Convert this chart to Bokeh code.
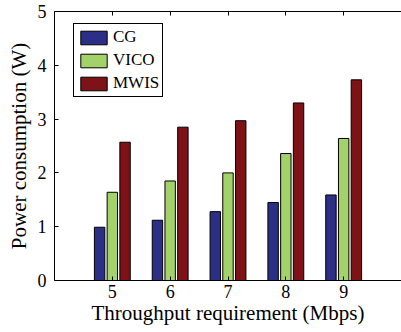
from bokeh.plotting import figure
from bokeh.models import ColumnDataSource, LinearAxis, FixedTicker, Legend, LegendItem, Range1d
from bokeh.transform import dodge
from bokeh.embed import file_html
from bokeh.resources import INLINE

throughput = [5, 6, 7, 8, 9]
cg = [0.99, 1.12, 1.28, 1.45, 1.59]
vico = [1.64, 1.85, 2.00, 2.36, 2.64]
mwis = [2.57, 2.85, 2.97, 3.30, 3.73]
series_names = ["CG", "VICO", "MWIS"]
colors = ["#2b2f86", "#a3d16a", "#7d1316"]
y_ticks = [0, 1, 2, 3, 4, 5]

FONT = "Liberation Serif"

src = ColumnDataSource(dict(x=throughput, cg=cg, vico=vico, mwis=mwis))

p = figure(width=401, height=332, output_backend="svg", toolbar_location=None,
           x_range=Range1d(4, 10), y_range=Range1d(0, 5),
           min_border_left=54, min_border_right=0, min_border_top=11, min_border_bottom=52)
p.xgrid.visible = False
p.ygrid.visible = False
p.outline_line_color = None
p.background_fill_color = "white"
p.border_fill_color = "white"

offsets = [-0.22, 0.0, 0.22]
renderers = []
for col, off, c in zip(["cg", "vico", "mwis"], offsets, colors):
    r = p.vbar(x=dodge("x", off, range=p.x_range), top=col, width=0.18, bottom=0,
               source=src, fill_color=c, line_color="black", line_width=1)
    renderers.append(r)

for ax in p.xaxis:
    ax.ticker = FixedTicker(ticks=throughput)
for ax in p.yaxis:
    ax.ticker = FixedTicker(ticks=y_ticks)

def style(ax, labels=True, ticks=None):
    ax.major_tick_in = 4
    ax.major_tick_out = 0
    ax.minor_tick_in = 0
    ax.minor_tick_out = 0
    ax.axis_line_color = "black"
    ax.major_tick_line_color = "black"
    ax.major_label_text_font = FONT
    ax.major_label_text_font_size = "18px"
    ax.major_label_text_color = "black"
    ax.axis_label_text_font = FONT
    ax.axis_label_text_font_size = "21px"
    ax.axis_label_text_font_style = "normal"
    ax.axis_label_text_color = "black"
    if not labels:
        ax.major_label_overrides = {t: "" for t in ticks}
        ax.major_label_standoff = 0

style(p.xaxis[0])
style(p.yaxis[0])
p.xaxis[0].axis_label = "Throughput requirement (Mbps)"
p.yaxis[0].axis_label = "Power consumption (W)"
p.xaxis[0].major_label_standoff = 4
p.yaxis[0].major_label_standoff = 8
p.xaxis[0].axis_label_standoff = 0
p.yaxis[0].axis_label_standoff = 4

top_ax = LinearAxis(ticker=FixedTicker(ticks=throughput))
style(top_ax, labels=False, ticks=throughput)
p.add_layout(top_ax, "above")

items = [LegendItem(label=n, renderers=[r]) for n, r in zip(series_names, renderers)]
legend = Legend(items=items, location=(19, 183),
                border_line_color="black", border_line_alpha=1.0, border_line_width=1.3,
                background_fill_color="white", background_fill_alpha=1.0)
legend.label_text_font = FONT
legend.label_text_font_size = "17px"
legend.label_text_color = "black"
legend.glyph_width = 33
legend.glyph_height = 17
legend.label_height = 17
legend.label_standoff = 3
legend.spacing = 3
legend.padding = 3
legend.margin = 0
p.add_layout(legend, "center")

open("out.html", "w").write(file_html(p, INLINE))
